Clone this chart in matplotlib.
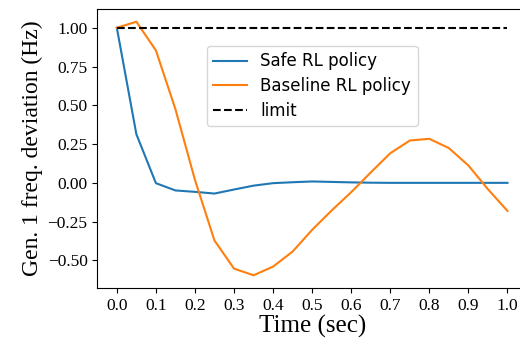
import matplotlib
matplotlib.use("Agg")
import matplotlib.pyplot as plt
import numpy as np

t = [0.0, 0.05, 0.1, 0.15, 0.2, 0.25, 0.3, 0.35, 0.4, 0.45, 0.5, 0.55, 0.6, 0.65, 0.7,
     0.75, 0.8, 0.85, 0.9, 0.95, 1.0]
safe = [1.0, 0.314, -0.002, -0.049, -0.058, -0.069, -0.043, -0.018, -0.002, 0.004, 0.009,
        0.006, 0.003, 0.001, 0.0, 0.0, 0.0, 0.0, 0.0, 0.0, 0.0]
baseline = [1.0, 1.039, 0.854, 0.475, 0.019, -0.372, -0.553, -0.596, -0.540, -0.443, -0.303,
            -0.178, -0.060, 0.067, 0.191, 0.273, 0.284, 0.224, 0.112, -0.041, -0.181]
limit = 1.0
xticks = [0.0, 0.1, 0.2, 0.3, 0.4, 0.5, 0.6, 0.7, 0.8, 0.9, 1.0]
yticks = [-0.50, -0.25, 0.00, 0.25, 0.50, 0.75, 1.00]

fig = plt.figure(figsize=(5.2, 3.47), dpi=100)
ax = fig.add_axes([97.3/520, 1-288/347, (527-97.3)/520, (288-9)/347])
ax.plot(t, safe, color='#1f77b4', lw=1.5, label='Safe RL policy')
ax.plot(t, baseline, color='#ff7f0e', lw=1.5, label='Baseline RL policy')
ax.hlines(limit, t[0], t[-1], colors='k', linestyles='--', lw=1.5, label='limit')
ax.set_xlim(-0.05, 1.05)
ax.set_ylim(-0.678, 1.121)
ax.set_xticks(xticks)
ax.set_yticks(yticks)
serif = 'Liberation Serif'
ax.set_xticklabels([f"{v:.1f}" for v in xticks], fontfamily=serif, fontsize=12.5)
ax.set_yticklabels([f"{v:.2f}".replace('-', '\u2212') for v in yticks], fontfamily=serif, fontsize=12.5)
ax.set_xlabel('Time (sec)', fontfamily=serif, fontsize=18, labelpad=1)
ax.set_ylabel('Gen. 1 freq. deviation (Hz)', fontfamily=serif, fontsize=17, labelpad=3)
ax.legend(loc='upper center', bbox_to_anchor=(0.5, 0.898), fontsize=12, labelspacing=0.4)
fig.savefig('out.png', dpi=100)
